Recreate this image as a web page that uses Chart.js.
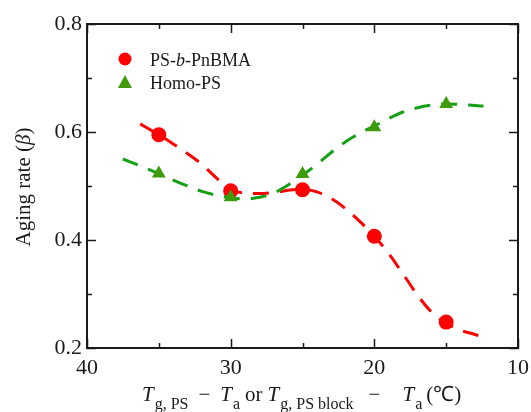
<!DOCTYPE html>
<html>
<head>
<meta charset="utf-8">
<script src="https://cdn.jsdelivr.net/npm/chart.js@4.4.1/dist/chart.umd.min.js"></script>
<style>
  html, body { margin: 0; padding: 0; background: #fff; }
  #wrap { width: 531px; height: 412px; position: relative; }
</style>
</head>
<body>
<div id="wrap"><canvas id="myChart"></canvas></div>
<script>
// measured points (Tg - Ta, beta)
var tempDiff = [35, 30, 25, 20, 15];
var blockBeta = [0.595, 0.491, 0.493, 0.407, 0.248];
var homoBeta = [0.523, 0.479, 0.522, 0.609, 0.652];

// dashed guide curves
var blockCurveX = [36.3, 35, 34, 33, 32, 31, 30, 29, 28, 27, 26, 25, 24, 23, 22, 21, 20, 19, 18, 17, 16, 15, 14, 13, 12.4];
var blockCurveY = [0.615, 0.595, 0.578, 0.56, 0.54, 0.515, 0.493, 0.487, 0.486, 0.488, 0.492, 0.494, 0.489, 0.477, 0.458, 0.434, 0.407, 0.375, 0.337, 0.298, 0.266, 0.246, 0.233, 0.225, 0.22];
var homoCurveX = [37.5, 36, 35, 34, 33, 32, 31, 30, 29, 28, 27, 26, 25, 24, 23, 22, 21, 20, 19, 18, 17, 16, 15, 14, 13, 12.4];
var homoCurveY = [0.55, 0.534, 0.523, 0.511, 0.5, 0.49, 0.483, 0.478, 0.476, 0.479, 0.487, 0.502, 0.52, 0.54, 0.562, 0.582, 0.598, 0.611, 0.625, 0.637, 0.645, 0.65, 0.652, 0.651, 0.649, 0.648];

// axis ticks
var xMajor = [40, 30, 20, 10];
var xMinor = [35, 25, 15];
var yMajor = [0.2, 0.4, 0.6, 0.8];
var yMinor = [0.3, 0.5, 0.7];

var RED = '#ff0000';
var GREEN_LINE = '#16a016';
var GREEN_MARK = '#3f9a0c';
var INK = '#1a1a1a';
var SERIF = '"Liberation Serif", "Times New Roman", serif';

function pts(xs, ys) {
    return xs.map(function (x, i) { return { x: x, y: ys[i] }; });
}

// frame, inward ticks, legend and axis titles
var decor = {
    id: 'decor',
    afterDraw: function (chart) {
        var ctx = chart.ctx;
        var a = chart.chartArea;
        var xs = chart.scales.x, ys = chart.scales.y;
        ctx.save();
        ctx.strokeStyle = INK;
        ctx.lineWidth = 2;
        ctx.strokeRect(a.left, a.top, a.right - a.left, a.bottom - a.top);

        ctx.lineWidth = 1.5;
        ctx.beginPath();
        function xt(v, len) {
            var px = Math.round(xs.getPixelForValue(v)) + 0.5;
            ctx.moveTo(px, a.bottom); ctx.lineTo(px, a.bottom - len);
            ctx.moveTo(px, a.top); ctx.lineTo(px, a.top + len);
        }
        function yt(v, len) {
            var py = Math.round(ys.getPixelForValue(v)) + 0.5;
            ctx.moveTo(a.left, py); ctx.lineTo(a.left + len, py);
            ctx.moveTo(a.right, py); ctx.lineTo(a.right - len, py);
        }
        xMajor.forEach(function (v) { xt(v, 9); });
        xMinor.forEach(function (v) { xt(v, 5); });
        yMajor.forEach(function (v) { yt(v, 9); });
        yMinor.forEach(function (v) { yt(v, 5); });
        ctx.stroke();

        // legend
        ctx.fillStyle = RED;
        ctx.beginPath();
        ctx.arc(125, 59, 6.5, 0, Math.PI * 2);
        ctx.fill();
        ctx.fillStyle = GREEN_MARK;
        ctx.beginPath();
        ctx.moveTo(125, 75); ctx.lineTo(132, 88); ctx.lineTo(118, 88);
        ctx.closePath();
        ctx.fill();

        ctx.fillStyle = INK;
        ctx.textBaseline = 'alphabetic';
        ctx.textAlign = 'left';
        runs(ctx, 150, 66, [
            ['PS-', '18px ' + SERIF, 0],
            ['b', 'italic 18px ' + SERIF, 0],
            ['-PnBMA', '18px ' + SERIF, 0]
        ]);
        runs(ctx, 150, 89, [['Homo-PS', '18px ' + SERIF, 0]]);

        // x title
        var sub = '16px ' + SERIF, it = 'italic 21px ' + SERIF, rm = '21px ' + SERIF;
        runs(ctx, 142, 401, [
            ['T', it, 0],
            ['g, PS', sub, 1, 8],
            ['\u2212', rm, 10],
            ['T', it, 10],
            ['a', sub, 1, 8],
            ['or', rm, 5],
            ['T', it, 5],
            ['g, PS block', sub, 1, 8],
            ['\u2212', rm, 15],
            ['T', it, 22],
            ['a', sub, 1, 8],
            ['(\u2103)', rm, 4]
        ]);

        // y title
        ctx.save();
        ctx.translate(30, 187);
        ctx.rotate(-Math.PI / 2);
        var parts = [['Aging rate (', '21px ' + SERIF], ['\u03b2', 'italic 21px ' + SERIF], [')', '21px ' + SERIF]];
        var w = 0;
        parts.forEach(function (p) { ctx.font = p[1]; w += ctx.measureText(p[0]).width; });
        var x = -w / 2;
        parts.forEach(function (p) {
            ctx.font = p[1];
            ctx.fillText(p[0], x, 0);
            x += ctx.measureText(p[0]).width;
        });
        ctx.restore();
        ctx.restore();
    }
};

// draw text runs left to right: [text, font, gapBefore, baselineShift]
function runs(ctx, x, y, list) {
    list.forEach(function (r) {
        x += r[2];
        ctx.font = r[1];
        ctx.fillText(r[0], x, y + (r[3] || 0));
        x += ctx.measureText(r[0]).width;
    });
}

var ctx = document.getElementById('myChart').getContext('2d');
var myChart = new Chart(ctx, {
    type: 'scatter',
    data: {
        datasets: [{
            label: 'Homo-PS',
            data: pts(tempDiff, homoBeta),
            pointStyle: 'triangle',
            pointRadius: 8,
            pointHoverRadius: 8,
            backgroundColor: GREEN_MARK,
            borderColor: GREEN_MARK,
            borderWidth: 0,
            order: 1
        }, {
            label: 'Homo-PS fit',
            data: pts(homoCurveX, homoCurveY),
            showLine: true,
            cubicInterpolationMode: 'monotone',
            pointRadius: 0,
            borderColor: GREEN_LINE,
            borderWidth: 3,
            borderDash: [16, 11],
            order: 2
        }, {
            label: 'PS-b-PnBMA',
            data: pts(tempDiff, blockBeta),
            pointStyle: 'circle',
            pointRadius: 7.5,
            pointHoverRadius: 7.5,
            backgroundColor: RED,
            borderColor: RED,
            borderWidth: 0,
            order: 3
        }, {
            label: 'PS-b-PnBMA fit',
            data: pts(blockCurveX, blockCurveY),
            showLine: true,
            cubicInterpolationMode: 'monotone',
            pointRadius: 0,
            borderColor: RED,
            borderWidth: 3,
            borderDash: [16, 11],
            order: 4
        }]
    },
    options: {
        responsive: true,
        maintainAspectRatio: false,
        animation: false,
        events: [],
        layout: { padding: { left: 0, right: 13, top: 24, bottom: 0 } },
        plugins: { legend: { display: false }, tooltip: { enabled: false } },
        scales: {
            x: {
                type: 'linear',
                reverse: true,
                min: 10,
                max: 40,
                border: { display: false },
                grid: { display: false, drawTicks: false },
                afterBuildTicks: function (s) { s.ticks = xMajor.map(function (v) { return { value: v }; }); },
                afterFit: function (s) {
                    s.height = 64;
                    s.paddingLeft = 0;
                    s.paddingRight = 0;
                },
                ticks: {
                    padding: 7,
                    color: INK,
                    font: { family: SERIF, size: 22 },
                    maxRotation: 0
                }
            },
            y: {
                min: 0.2,
                max: 0.8,
                border: { display: false },
                grid: { display: false, drawTicks: false },
                afterBuildTicks: function (s) { s.ticks = yMajor.map(function (v) { return { value: v }; }); },
                afterFit: function (s) {
                    s.width = 87;
                    s.paddingTop = 0;
                    s.paddingBottom = 0;
                },
                ticks: {
                    padding: 5,
                    color: INK,
                    font: { family: SERIF, size: 22 },
                    callback: function (v) { return v.toFixed(1); }
                }
            }
        }
    },
    plugins: [decor]
});
</script>
</body>
</html>
